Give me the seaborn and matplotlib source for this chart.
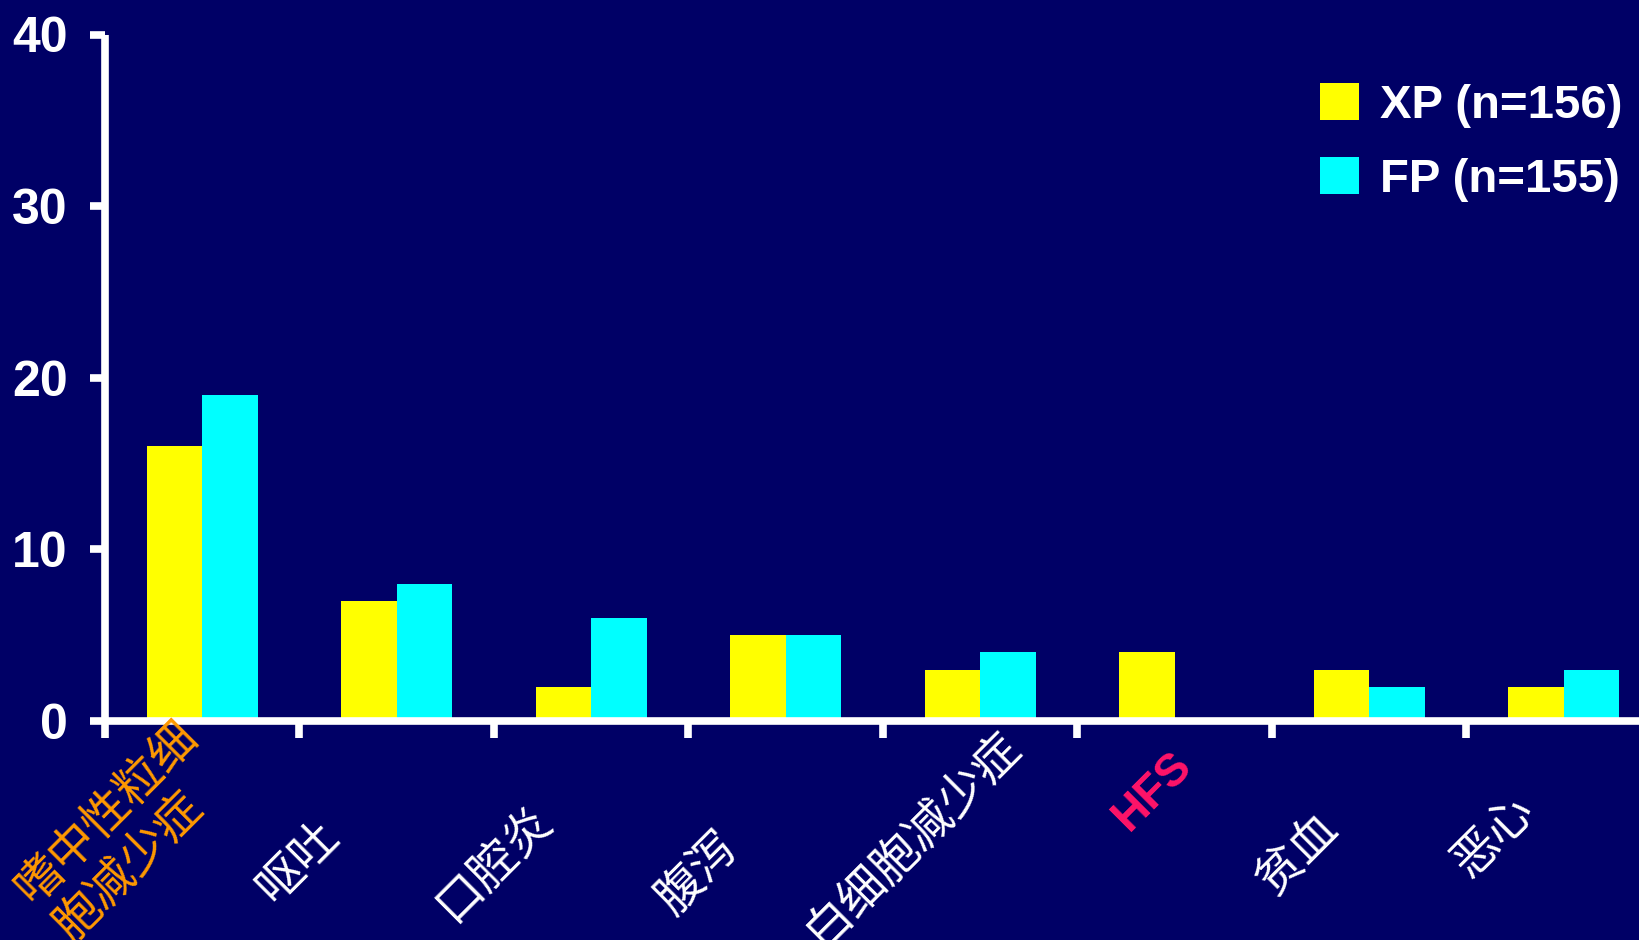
import matplotlib
matplotlib.use('Agg')
import matplotlib.pyplot as plt
import matplotlib.transforms as mtransforms
import pandas as pd
import seaborn as sns

# Data
categories = ['嗜中性粒细胞减少症', '呕吐', '口腔炎', '腹泻', '白细胞减少症', 'HFS', '贫血', '恶心']
tick_labels = ['嗜中性粒细\n胞减少症', '呕吐', '口腔炎', '腹泻', '白细胞减少症', 'HFS', '贫血', '恶心']
groups = ['XP (n=156)', 'FP (n=155)']
xp_values = [16, 7, 2, 5, 3, 4, 3, 2]
fp_values = [19, 8, 6, 5, 4, 0, 2, 3]
y_ticks = [0, 10, 20, 30, 40]

# Styling / layout
bg = '#000066'
bar_colors = ['#FFFF00', '#00FFFF']
label_colors = ['#FF9900', 'white', 'white', 'white', 'white', '#FF1469', 'white', 'white']
label_bold = [False, False, False, False, False, True, False, False]
# pixel offsets of each rotated label centre from its category centre
label_offsets = [(-76, -110), (-99, -141), (-97, -142), (-88, -152),
                 (-68, -118), (-22, -70), (-72, -133), (-70, -115)]

df = pd.DataFrame({
    'category': categories * 2,
    'group': [groups[0]] * len(categories) + [groups[1]] * len(categories),
    'value': xp_values + fp_values,
})

sns.set_style('dark')
plt.rcParams['font.family'] = ['Liberation Sans', 'Noto Sans CJK SC', 'DejaVu Sans']

fig = plt.figure(figsize=(16.4, 9.4), dpi=100, facecolor=bg)
ax = fig.add_axes([105 / 1640, 1 - 721 / 940, 1 - 105 / 1640, (721 - 34.5) / 940])
ax.set_facecolor(bg)

sns.barplot(data=df, x='category', y='value', hue='group', order=categories,
            hue_order=groups, palette=bar_colors, saturation=1, width=0.57,
            gap=0, linewidth=0, ax=ax)

leg = ax.get_legend()
handles = leg.legend_handles
labels = [t.get_text() for t in leg.get_texts()]
leg.remove()

ax.set_xlabel('')
ax.set_ylabel('')
ax.grid(False)

for s in ['top', 'right']:
    ax.spines[s].set_visible(False)
for s in ['left', 'bottom']:
    ax.spines[s].set_visible(True)
    ax.spines[s].set_color('white')
    ax.spines[s].set_linewidth(5.5)
    ax.spines[s].set_capstyle('butt')

ax.set_yticks(y_ticks)
ax.set_yticklabels([str(v) for v in y_ticks], fontsize=36, fontweight='bold',
                   color='white')
ax.set_xticks([i - 0.5 for i in range(len(categories))])
ax.set_xticklabels([])
ax.set_xlim(-0.5, -0.5 + 1535 / 194.5)
ax.set_ylim(0, 40)
ax.tick_params(axis='both', which='major', colors='white', width=5.5,
               direction='out', bottom=True, left=True)
ax.tick_params(axis='y', length=11, pad=16)
ax.tick_params(axis='x', length=12)

for i, (lab, col, bold, off) in enumerate(zip(tick_labels, label_colors,
                                               label_bold, label_offsets)):
    tr = ax.transData + mtransforms.ScaledTranslation(off[0] / 100, off[1] / 100,
                                                      fig.dpi_scale_trans)
    fam = ['Liberation Sans'] if bold else ['Noto Sans CJK SC', 'DejaVu Sans']
    ax.text(i, 0, lab, transform=tr, rotation=45, rotation_mode='anchor',
            ha='center', va='center', multialignment='left',
            fontsize=33 if bold else 34,
            fontweight='bold' if bold else 'normal', color=col, family=fam,
            linespacing=1.15, clip_on=False)

fig.legend(handles, labels, loc='upper left',
           bbox_to_anchor=(1320 / 1640, 1 - 83 / 940), frameon=False,
           prop={'weight': 'bold', 'size': 34}, labelcolor='white',
           handlelength=0.83, handleheight=0.83, handletextpad=0.45,
           labelspacing=0.62, borderpad=0, borderaxespad=0)

fig.savefig('out.png', dpi=100, facecolor=bg)
